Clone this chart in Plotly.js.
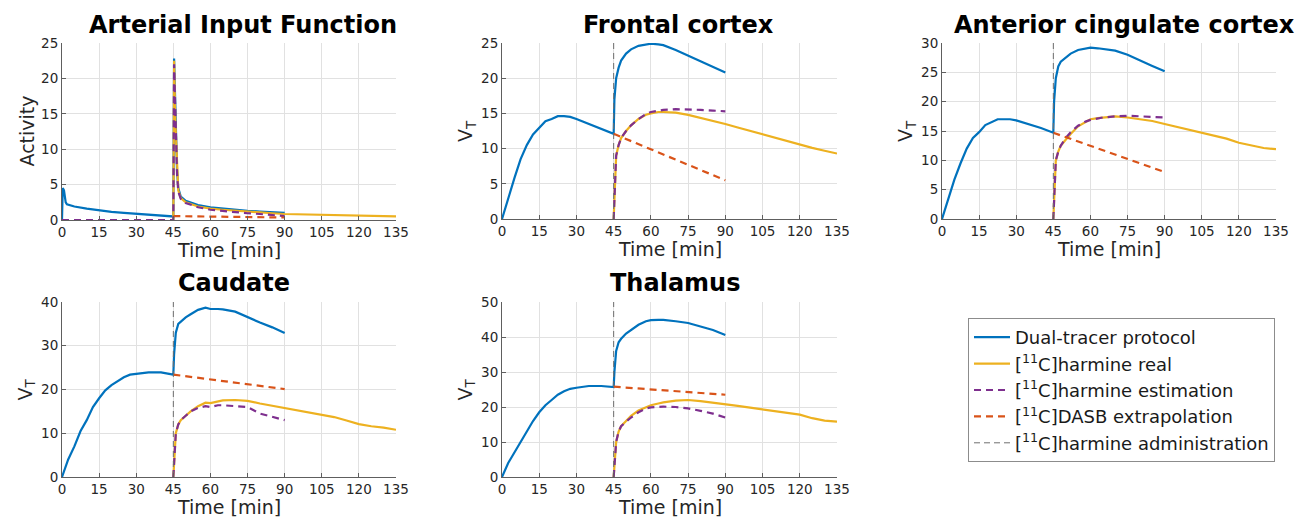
<!DOCTYPE html>
<html>
<head>
<meta charset="utf-8">
<script src="https://cdn.plot.ly/plotly-3.0.1.min.js"></script>
<style>html,body{margin:0;padding:0;background:#fff;}#chart{width:1295px;height:518px;}</style>
</head>
<body>
<div id="chart"></div>
<script>
// ---------- DATA ----------
const adminTime = 45;
const panelTitles = ["Arterial Input Function", "Frontal cortex", "Anterior cingulate cortex", "Caudate", "Thalamus"];
const yTitles = ["Activity", "V<sub>T</sub>", "V<sub>T</sub>", "V<sub>T</sub>", "V<sub>T</sub>"];
const yMax = [25, 25, 30, 40, 50];
const yStep = [5, 5, 5, 10, 10];
const xTicks = [0, 15, 30, 45, 60, 75, 90, 105, 120, 135];
const seriesNames = ["Dual-tracer protocol", "[<sup>11</sup>C]harmine real", "[<sup>11</sup>C]harmine estimation", "[<sup>11</sup>C]DASB extrapolation", "[<sup>11</sup>C]harmine administration"];

// Arterial input function
const tAifDual = [0,0.3,0.8,1.5,2,5,10,15,20,25,30,35,40,45,45.3,45.8,46.5,47,48,50,55,60,65,70,75,80,85,90];
const aifDual  = [0,4.5,4.2,2.5,2.2,1.9,1.6,1.35,1.15,1.0,0.85,0.7,0.6,0.5,22.8,15,7,4.5,3.3,2.7,2.1,1.8,1.6,1.45,1.3,1.2,1.1,1.0];
const tAifReal = [45,45.3,45.8,46.5,47,48,50,55,60,65,70,75,80,85,90,105,120,135];
const aifReal  = [0,22.5,14,6.5,4.2,3.1,2.5,1.9,1.6,1.45,1.3,1.15,1.05,0.95,0.85,0.72,0.6,0.5];
const tAifEst  = [0,45,45.3,45.8,46.5,47,48,50,55,60,65,70,75,80,85,90];
const aifEst   = [0,0,22,14,6.5,4,3,2.4,1.8,1.45,1.25,1.1,0.95,0.85,0.7,0.55];
const tExt     = [45, 90];
const aifExt   = [0.55, 0.35];

// Regional V_T curves
const tDual = [0,2.5,5,7.5,10,12.5,15,17.5,20,22.5,25,27.5,30,35,40,45,45.3,46,47,48,50,52,55,58,60,63,65,70,75,80,85,90];
const tReal = [45,45.5,46,47,48,50,52,55,58,60,63,65,70,75,80,85,90,95,100,105,110,115,120,125,130,135];
const tEst  = [45,45.5,46,47,48,50,52,55,58,60,63,65,70,75,80,85,90];

const fcDual = [0,3,5.8,8.5,10.5,12,13,13.9,14.2,14.6,14.6,14.5,14.2,13.5,12.8,12.1,17,20,21.5,22.5,23.5,24.1,24.6,24.8,24.9,24.8,24.7,24.0,23.2,22.5,21.7,20.8];
const fcReal = [0,6,9,10.5,11.5,12.5,13.3,14.2,14.8,15.0,15.2,15.2,15.1,14.8,14.4,14.0,13.5,13.0,12.5,12.0,11.5,11.0,10.5,10.1,9.7,9.3];
const fcEst  = [0,6,9,10.5,11.5,12.5,13.3,14.2,14.9,15.2,15.4,15.5,15.6,15.6,15.5,15.4,15.3];
const fcExt  = [12.1, 5.5];

const accDual = [0,3.5,6.7,9.5,12,13.8,14.8,16,16.5,17,17,17,16.8,16.2,15.5,14.7,20,24,26,26.8,27.5,28.2,28.8,29.1,29.2,29.1,29.0,28.7,28.0,27.0,26.1,25.2];
const accReal = [0,6,10,11.5,12.5,13.5,14.5,15.8,16.5,17,17.2,17.3,17.5,17.3,17.0,16.7,16.2,15.7,15.3,14.7,14.2,13.7,13.0,12.5,12.1,11.9];
const accEst  = [0,6,10,11.5,12.5,13.8,14.8,15.9,16.6,16.9,17.2,17.3,17.5,17.6,17.5,17.4,17.3];
const accExt  = [14.7, 8.0];

const caudDual = [0,4,7,10.5,13,16,18,19.8,21,22,22.8,23.4,23.6,23.9,23.9,23.4,28,33,35,35.5,36.5,37.2,38.2,38.7,38.4,38.4,38.3,37.8,36.5,35.3,34.2,32.9];
const caudReal = [0,6,10,12,13,14,15,16.2,17,16.9,17.3,17.5,17.6,17.4,16.8,16.3,15.8,15.2,14.7,14.2,13.7,12.9,12.1,11.6,11.3,10.8];
const caudEst  = [0,6,10,12,13,14,15,15.8,16.2,16.0,16.4,16.4,16.2,16.0,14.5,13.8,13.0];
const caudExt  = [23.4, 20.1];

const thalDual = [0,4,7,10,13,16,18.5,20.5,22,23.5,24.5,25.2,25.5,26,26,25.7,30,36,38.5,39.5,41,42,43.5,44.5,44.8,44.9,44.9,44.5,44.0,43.0,42.0,40.6];
const thalReal = [0,6,10,13,14.5,16,17.5,19,20,20.5,21,21.3,21.8,22.0,21.7,21.3,20.9,20.3,19.8,19.3,18.7,18.2,17.8,16.8,16.1,15.8];
const thalEst  = [0,6,10,13,14.5,15.8,17,18.5,19.6,19.9,20.1,20.1,20.0,19.6,18.9,18.1,17.0];
const thalExt  = [25.8, 23.5];

// ---------- STYLE ----------
const colors = ["#0072BD", "#EDB120", "#7E2F8E", "#D95319", "#6e6e6e"];
const FONT = "DejaVu Sans, Verdana, sans-serif";

const panels = [
  {dual:[tAifDual, aifDual], real:[tAifReal, aifReal], est:[tAifEst, aifEst], ext:[tExt, aifExt], admin:false},
  {dual:[tDual, fcDual], real:[tReal, fcReal], est:[tEst, fcEst], ext:[tExt, fcExt], admin:true},
  {dual:[tDual, accDual], real:[tReal, accReal], est:[tEst, accEst], ext:[tExt, accExt], admin:true},
  {dual:[tDual, caudDual], real:[tReal, caudReal], est:[tEst, caudEst], ext:[tExt, caudExt], admin:true},
  {dual:[tDual, thalDual], real:[tReal, thalReal], est:[tEst, thalEst], ext:[tExt, thalExt], admin:true}
];

// pixel layout (paper px)
const W = 1295, H = 518;
const boxes = [
  {x0:62, x1:396, yTop:43, yBot:220, titleX:243, titleY:25},
  {x0:502, x1:837, yTop:43, yBot:219, titleX:678, titleY:25},
  {x0:942, x1:1276, yTop:43, yBot:219, titleX:1124, titleY:25},
  {x0:62, x1:396, yTop:302, yBot:477, titleX:234, titleY:283},
  {x0:502, x1:837, yTop:302, yBot:477, titleX:675, titleY:283}
];

const traces = [];
const layout = {
  width: W, height: H,
  margin: {l:0, r:0, t:0, b:0},
  paper_bgcolor: "#ffffff",
  plot_bgcolor: "#ffffff",
  font: {family: FONT, size: 13, color: "#262626"},
  showlegend: true,
  legend: {
    x: 968/W, y: 1 - 318/H, xanchor: "left", yanchor: "top",
    bgcolor: "#ffffff", bordercolor: "#8c8c8c", borderwidth: 1,
    font: {family: FONT, size: 18, color: "#1a1a1a"},
    traceorder: "normal", itemwidth: 36, tracegroupgap: 0
  },
  annotations: [],
  shapes: []
};

panels.forEach((p, i) => {
  const n = i + 1;
  const xa = "x" + (n === 1 ? "" : n), ya = "y" + (n === 1 ? "" : n);
  const leg = i === 0;
  traces.push({x:p.dual[0], y:p.dual[1], xaxis:xa, yaxis:ya, type:"scatter", mode:"lines", name:seriesNames[0], legendrank:1, showlegend:leg, line:{color:colors[0], width:2.2}});
  traces.push({x:p.real[0], y:p.real[1], xaxis:xa, yaxis:ya, type:"scatter", mode:"lines", name:seriesNames[1], legendrank:2, showlegend:leg, line:{color:colors[1], width:2.2}});
  traces.push({x:p.est[0], y:p.est[1], xaxis:xa, yaxis:ya, type:"scatter", mode:"lines", name:seriesNames[2], legendrank:3, showlegend:leg, line:{color:colors[2], width:2.2, dash:"7px,5px"}});
  traces.push({x:p.ext[0], y:p.ext[1], xaxis:xa, yaxis:ya, type:"scatter", mode:"lines", name:seriesNames[3], legendrank:4, showlegend:leg, line:{color:colors[3], width:2.2, dash:"7px,5px"}});
  if (p.admin) {
    traces.push({x:[adminTime, adminTime], y:[0, yMax[i]], xaxis:xa, yaxis:ya, type:"scatter", mode:"lines", name:seriesNames[4], legendrank:5, showlegend:(i===1), line:{color:colors[4], width:1, dash:"6px,4px"}});
  }

  const b = boxes[i];
  const axCommon = {
    showgrid: true, gridcolor: "#e1e1e1", gridwidth: 1,
    showline: true, linecolor: "#5e5e5e", linewidth: 1,
    ticks: "inside", ticklen: 4, tickcolor: "#5e5e5e",
    zeroline: false, mirror: false,
    tickfont: {family: FONT, size: 13.5, color: "#262626"},
    fixedrange: true
  };
  layout["xaxis" + (n === 1 ? "" : n)] = Object.assign({}, axCommon, {
    domain: [b.x0/W, b.x1/W], anchor: ya, range: [0, 135],
    tickvals: xTicks, ticktext: xTicks.map(String)
  });
  layout["yaxis" + (n === 1 ? "" : n)] = Object.assign({}, axCommon, {
    domain: [1 - b.yBot/H, 1 - b.yTop/H], anchor: xa, range: [0, yMax[i]],
    dtick: yStep[i], tick0: 0
  });
  // panel title
  layout.annotations.push({text: "<b>" + panelTitles[i] + "</b>", xref:"paper", yref:"paper", x: b.titleX/W, y: 1 - b.titleY/H, xanchor:"center", yanchor:"middle", showarrow:false, font:{family: FONT, size: 24, color:"#000"}});
  // x-axis title
  layout.annotations.push({text: "Time [min]", xref:"paper", yref:"paper", x: (b.x0 + b.x1)/2/W, y: 1 - (b.yBot + 30)/H, xanchor:"center", yanchor:"middle", showarrow:false, font:{family: FONT, size: 19, color:"#262626"}});
  // y-axis title
  layout.annotations.push({text: yTitles[i], xref:"paper", yref:"paper", x: (b.x0 - 36)/W, y: 1 - (b.yTop + b.yBot)/2/H, xanchor:"center", yanchor:"middle", textangle:-90, showarrow:false, font:{family: FONT, size: 19, color:"#262626"}});
});

Plotly.newPlot("chart", traces, layout, {displayModeBar:false, staticPlot:true});
</script>
</body>
</html>
